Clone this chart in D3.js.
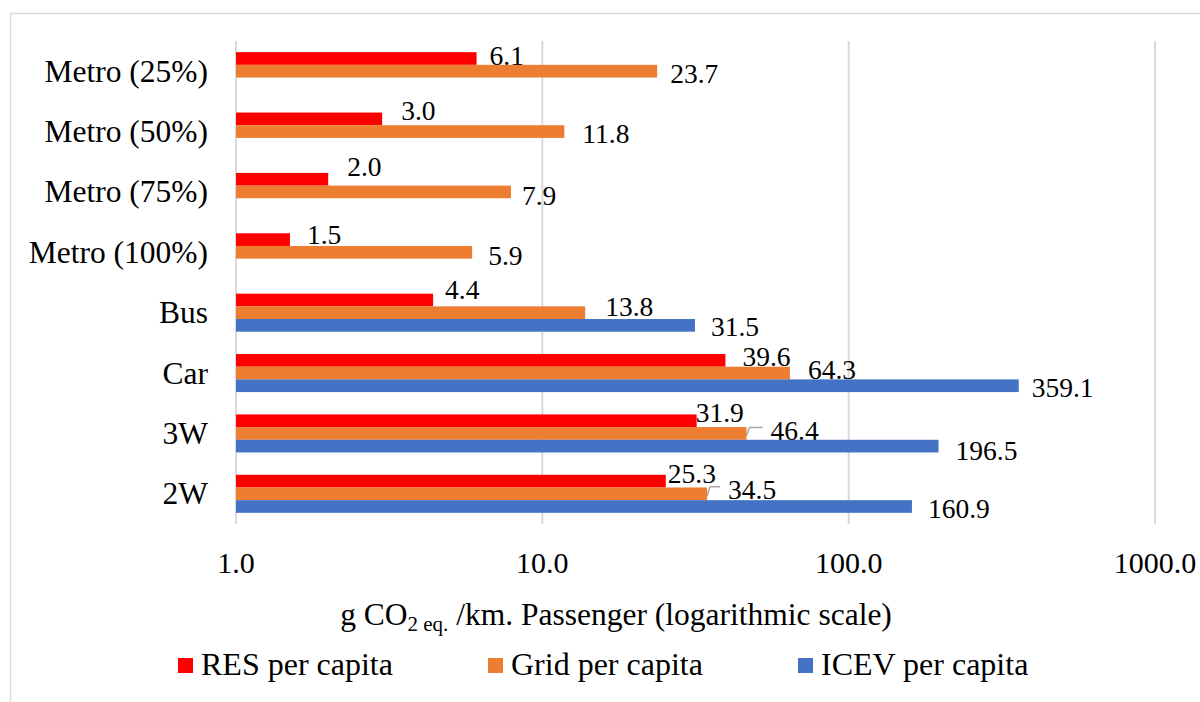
<!DOCTYPE html>
<html>
<head>
<meta charset="utf-8">
<script src="https://cdn.jsdelivr.net/npm/d3@7"></script>
<style>
  html, body { margin: 0; padding: 0; background: #fff; }
  svg { display: block; font-family: "Liberation Serif", "Times New Roman", serif; }
</style>
</head>
<body>
<svg id="chart" width="1200" height="702"></svg>
<script>
// ---- data ----
const categories = ["Metro (25%)", "Metro (50%)", "Metro (75%)", "Metro (100%)", "Bus", "Car", "3W", "2W"];
const seriesNames = ["RES per capita", "Grid per capita", "ICEV per capita"];
const resValues  = [6.1, 3.0, 2.0, 1.5, 4.4, 39.6, 31.9, 25.3];
const gridValues = [23.7, 11.8, 7.9, 5.9, 13.8, 64.3, 46.4, 34.5];
const icevValues = [null, null, null, null, 31.5, 359.1, 196.5, 160.9];
const tickValues = [1, 10, 100, 1000];
const tickLabels = ["1.0", "10.0", "100.0", "1000.0"];

// ---- label nudges (layout, Excel-moved labels) ----
const labelDx = [
  [13, 19, 19, 17, 12, 17, -1, 2],
  [13, 18, 11, 16, 20, 18, 24, 21],
  [0, 0, 0, 0, 16, 13, 17, 16]
];
const labelDy = [
  [-3, -8, -13, -5, -11, -4, -8, -8],
  [2, 2, 4, 3, -6, -4, -3, -4],
  [0, 0, 0, 0, 1, 2, 4, 2]
];
const leaderSeries = 1;
const leaderCats = ["3W", "2W"];

const colors = ["#FF0000", "#ED7D31", "#4472C4"];
const seriesValues = [resValues, gridValues, icevValues];

const svg = d3.select("#chart");

// chart border
svg.append("rect").attr("x", 10.5).attr("y", 13.5).attr("width", 1220).attr("height", 720)
  .attr("fill", "#fff").attr("stroke", "#d9d9d9").attr("stroke-width", 1.5);

const x = d3.scaleLog().domain([1, 1000]).range([236, 1155]);
const y = d3.scaleBand().domain(categories).range([41, 524]).padding(0);
const groupFrac = 0.63;
const barH = y.bandwidth() * groupFrac / 3;
const groupOff = (y.bandwidth() - barH * 3) / 2;

// gridlines
svg.append("g").selectAll("line").data(tickValues).join("line")
  .attr("x1", d => x(d)).attr("x2", d => x(d))
  .attr("y1", 41).attr("y2", 524)
  .attr("stroke", "#d9d9d9").attr("stroke-width", 2);

// tick labels
svg.append("g").selectAll("text").data(tickValues).join("text")
  .attr("x", d => x(d)).attr("y", 573)
  .attr("text-anchor", "middle").attr("font-size", 30).attr("fill", "#000")
  .text((d, i) => tickLabels[i]);

// category labels
svg.append("g").selectAll("text").data(categories).join("text")
  .attr("x", 208).attr("y", d => y(d) + y.bandwidth() / 2 + 10.5)
  .attr("text-anchor", "end").attr("font-size", 31.5).attr("fill", "#000")
  .text(d => d);

// flattened records
const recs = [];
seriesValues.forEach((vals, s) => {
  vals.forEach((v, i) => {
    if (v !== null) recs.push({ s, i, cat: categories[i], v });
  });
});
const barTop = r => y(r.cat) + groupOff + r.s * barH;

// value labels (drawn below bars, like the reference)
svg.append("g").selectAll("text").data(recs).join("text")
  .attr("x", r => x(r.v) + labelDx[r.s][r.i])
  .attr("y", r => barTop(r) + barH / 2 + labelDy[r.s][r.i] + 9.5)
  .attr("font-size", 27.5).attr("fill", "#000")
  .text(r => r.v.toFixed(1));

// leader lines
svg.append("g").selectAll("path").data(recs.filter(r => r.s === leaderSeries && leaderCats.includes(r.cat))).join("path")
  .attr("d", r => {
    const x0 = x(r.v), y0 = barTop(r) + barH / 2;
    const ly = y0 + labelDy[r.s][r.i] - 3;
    const lx = x0 + labelDx[r.s][r.i] - 8;
    return `M${x0},${y0 + 2} L${x0 + 3},${ly} L${lx},${ly}`;
  })
  .attr("fill", "none").attr("stroke", "#a6a6a6").attr("stroke-width", 1.5);

// bars
svg.append("g").selectAll("rect").data(recs).join("rect")
  .attr("x", x(1)).attr("y", r => barTop(r))
  .attr("width", r => x(r.v) - x(1)).attr("height", barH)
  .attr("fill", r => colors[r.s]);

// axis title with subscript
const title = svg.append("text").attr("x", 616).attr("y", 625)
  .attr("text-anchor", "middle").attr("font-size", 31.5).attr("fill", "#000");
title.append("tspan").text("g CO");
title.append("tspan").attr("font-size", 21).attr("dy", 6).text("2 eq.");
title.append("tspan").attr("dy", -6).text(" /km. Passenger (logarithmic scale)");

// legend
const legendX = [178, 488, 798];
const leg = svg.append("g").selectAll("g").data(seriesNames).join("g")
  .attr("transform", (d, i) => `translate(${legendX[i]},0)`);
leg.append("rect").attr("x", 0).attr("y", 658).attr("width", 15).attr("height", 15)
  .attr("fill", (d, i) => colors[i]);
leg.append("text").attr("x", 23).attr("y", 675).attr("font-size", 32).attr("fill", "#000")
  .text(d => d);
</script>
</body>
</html>
